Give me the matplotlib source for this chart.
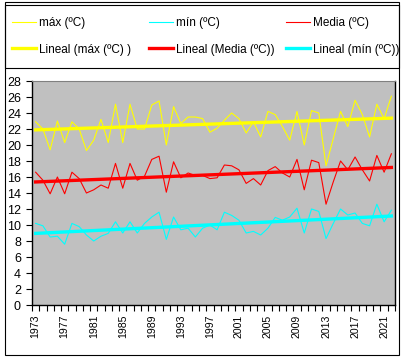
import matplotlib
matplotlib.use("Agg")
import matplotlib.pyplot as plt
from matplotlib.patches import Rectangle
from matplotlib.lines import Line2D
import numpy as np

plt.rcParams['font.family'] = ['Liberation Sans', 'DejaVu Sans']

years = list(range(1973, 2023))
tmax = [22.9, 22.0, 19.4, 23.0, 20.3, 22.9, 22.0, 19.3, 20.6, 23.2,
        20.3, 25.1, 20.3, 25.1, 22.0, 22.0, 25.0, 25.5, 20.0, 24.8,
        22.7, 23.5, 23.5, 23.3, 21.6, 22.1, 23.1, 24.0, 23.3, 21.5,
        22.9, 21.0, 24.2, 23.8, 22.3, 20.6, 24.2, 20.0, 24.3, 24.0,
        17.4, 20.8, 24.2, 22.3, 25.6, 23.8, 21.0, 25.1, 23.3, 26.1]
tmed = [16.6, 15.6, 13.9, 16.0, 13.9, 16.6, 15.8, 14.0, 14.4, 15.0,
        14.6, 17.7, 14.6, 17.7, 15.6, 16.1, 18.2, 18.6, 14.1, 17.9,
        15.9, 16.5, 16.2, 16.2, 15.8, 15.9, 17.5, 17.4, 16.9, 15.2,
        15.8, 15.0, 16.8, 17.3, 16.5, 16.0, 18.2, 14.4, 18.1, 17.8,
        12.6, 15.4, 18.0, 16.9, 18.5, 16.9, 15.5, 18.7, 16.6, 18.9]
tmin = [10.2, 9.9, 8.5, 8.6, 7.6, 10.2, 9.8, 8.75, 8.0, 8.6,
        8.95, 10.4, 9.0, 10.4, 9.0, 10.2, 11.0, 11.6, 8.2, 11.0,
        9.4, 9.6, 8.5, 9.6, 10.0, 9.4, 11.6, 11.2, 10.6, 9.0,
        9.2, 8.75, 9.6, 10.95, 10.6, 11.0, 12.1, 9.0, 12.0, 11.7,
        8.3, 10.2, 12.0, 11.25, 11.5, 10.2, 9.9, 12.6, 10.4, 11.85]
label_years = years[::4]
yticks = list(range(0, 29, 2))

W, H = 401, 360
fig = plt.figure(figsize=(W / 100, H / 100), dpi=100)

def fx(px):
  return px / W

def fy(py):
  return 1 - py / H

# chart frame and legend box
fig.patches.append(Rectangle((fx(5), fy(355)), fx(394), 353 / H, transform=fig.transFigure,
                             fill=False, ec='black', lw=0.8))
fig.patches.append(Rectangle((fx(5), fy(68)), fx(394), 63 / H, transform=fig.transFigure,
                             fill=False, ec='black', lw=0.8))

ax = fig.add_axes([fx(32), fy(305), fx(395 - 32), (305 - 81) / H])
ax.set_facecolor('#C0C0C0')

x = np.array(years)
series = [("máx (ºC)", tmax, '#FFFF00'), ("mín (ºC)", tmin, '#00FFFF'), ("Media (ºC)", tmed, '#FF0000')]
lines = {}
trends = {}
for name, vals, col in series:
  lines[name], = ax.plot(x, vals, color=col, lw=0.8)
  p = np.polyfit(x, vals, 1)
  trends[name], = ax.plot(x, np.polyval(p, x), color=col, lw=2.4)

ax.set_xlim(years[0] - 0.5, years[-1] + 0.5)
ax.set_ylim(0, 28)
ax.set_yticks(yticks)
ax.set_yticklabels([str(v) for v in yticks], fontsize=9)
ax.set_xticks(label_years)
ax.set_xticklabels([str(v) for v in label_years], rotation=90, fontsize=7.6)
ax.set_xticks(np.arange(years[0] - 0.5, years[-1] + 1), minor=True)
ax.tick_params(axis='x', which='major', length=0, pad=7)
ax.tick_params(axis='x', which='minor', length=4, width=0.8, direction='out')
ax.tick_params(axis='y', length=4, width=0.8, pad=4)
ax.spines['top'].set_color('#808080')
for s in ['left', 'bottom', 'right']:
  ax.spines[s].set_color('black')
  ax.spines[s].set_linewidth(1.0)

# legend in three columns, Excel style
cols = [
  (12, [lines["máx (ºC)"], trends["máx (ºC)"]], ["máx (ºC)", "Lineal (máx (ºC) )"]),
  (149, [lines["mín (ºC)"], trends["Media (ºC)"]], ["mín (ºC)", "Lineal (Media (ºC))"]),
  (286, [lines["Media (ºC)"], trends["mín (ºC)"]], ["Media (ºC)", "Lineal (mín (ºC))"]),
]
for xp, hs, labs in cols:
  leg = fig.legend(hs, labs, loc='center left', bbox_to_anchor=(fx(xp), fy(36.5)),
                   frameon=False, fontsize=8.5, handlelength=2.0, handletextpad=0.3,
                   labelspacing=1.2, borderpad=0, borderaxespad=0)

fig.savefig('out.png', dpi=100)
